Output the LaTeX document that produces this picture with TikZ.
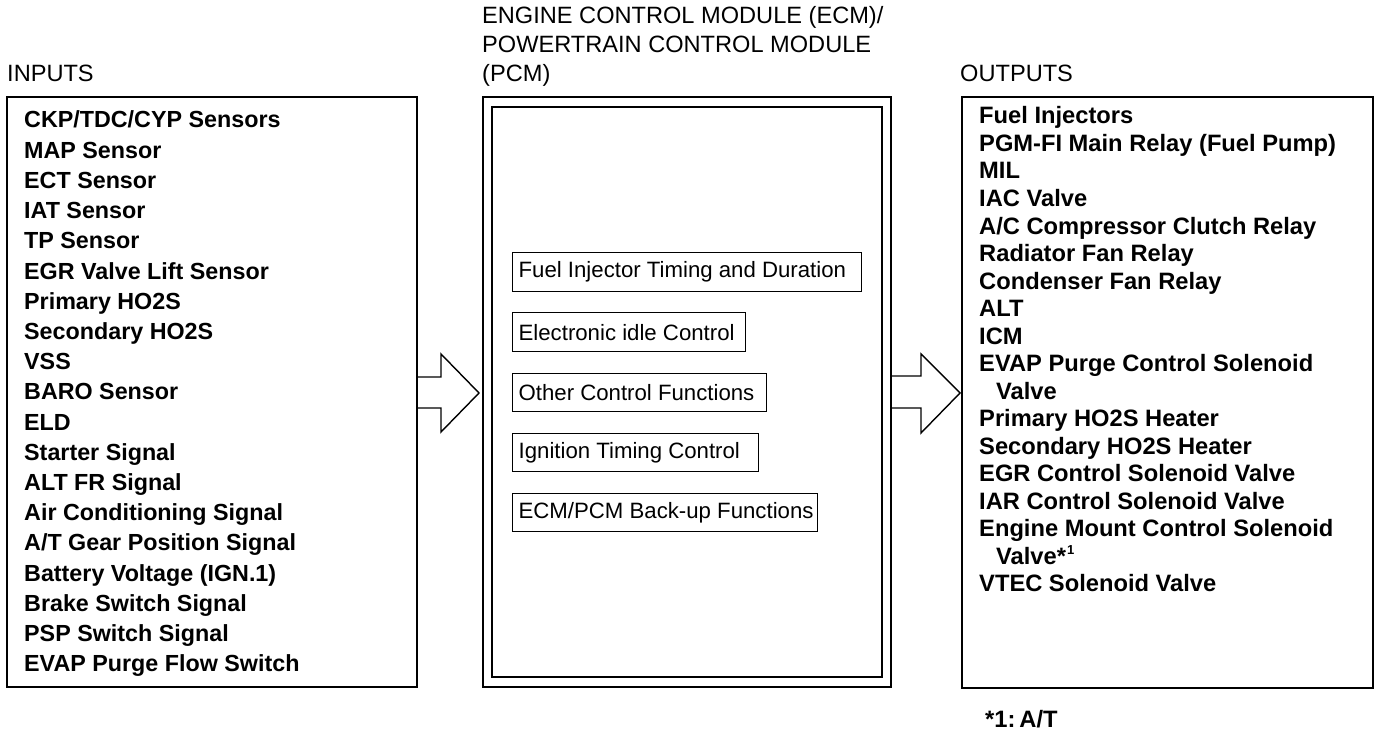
\documentclass[tikz,border=0pt]{standalone}
\usepackage{fontspec}
\setmainfont{Liberation Sans}
\begin{document}
\begin{tikzpicture}[x=1pt,y=-1pt,
  box/.style={line width=1.4pt},
  title/.style={anchor=base west,inner sep=0pt,font=\fontsize{23.6}{23.6}\selectfont},
  item/.style={anchor=base west,inner sep=0pt,font=\fontsize{23.3}{23.3}\selectfont\bfseries},
  oitem/.style={anchor=base west,inner sep=0pt,font=\fontsize{23.7}{23.7}\selectfont\bfseries},
  func/.style={draw,line width=1.3pt,anchor=north west,inner xsep=6pt,inner ysep=0pt,
    font=\fontsize{22.2}{22.2}\selectfont},
  blockarrow/.style={line width=1.4pt,line join=miter}]
\useasboundingbox (0,0) rectangle (1392,730);
% titles
\node[title] (tin) at (7,82) {INPUTS};
\node[title] (tecm1) at (482,24) {ENGINE CONTROL MODULE (ECM)/};
\node[title] (tecm2) at (482,53) {POWERTRAIN CONTROL MODULE};
\node[title] (tecm3) at (482,82) {(PCM)};
\node[title] (tout) at (960,82) {OUTPUTS};
% boxes
\draw[box] (7,97) rectangle (417,687);
\draw[box] (483,97) rectangle (891,687);
\draw[line width=1.8pt] (492,107) rectangle (882,677);
\draw[box] (962,97) rectangle (1373,688);
% inputs
\foreach \t [count=\i] in {CKP/TDC/CYP Sensors,MAP Sensor,ECT Sensor,IAT Sensor,TP Sensor,
  EGR Valve Lift Sensor,Primary HO2S,Secondary HO2S,VSS,BARO Sensor,ELD,Starter Signal,
  ALT FR Signal,Air Conditioning Signal,A/T Gear Position Signal,Battery Voltage (IGN.1),
  Brake Switch Signal,PSP Switch Signal,EVAP Purge Flow Switch}
  \node[item] (in\i) at (24,{128+30.2*(\i-1)}) {\t};
% outputs
\foreach \t [count=\i] in {Fuel Injectors,PGM-FI Main Relay (Fuel Pump),MIL,IAC Valve,
  A/C Compressor Clutch Relay,Radiator Fan Relay,Condenser Fan Relay,ALT,ICM,
  EVAP Purge Control Solenoid}
  \node[oitem] (out\i) at (979,{124+27.5*(\i-1)}) {\t};
\node[oitem] (out11) at (996,{124+27.5*10}) {Valve};
\foreach \t [count=\j from 12] in {Primary HO2S Heater,Secondary HO2S Heater,
  EGR Control Solenoid Valve,IAR Control Solenoid Valve,Engine Mount Control Solenoid}
  \node[oitem] (out\j) at (979,{124+27.5*(\j-1)}) {\t};
\node[oitem] (out17) at (996,{124+27.5*16}) {Valve*\kern1pt\textsuperscript{\fontsize{13}{13}\selectfont 1}};
\node[oitem] (out18) at (979,{124+27.5*17}) {VTEC Solenoid Valve};
\node[oitem] (note) at (985,727) {*1:\kern4pt A/T};
% function boxes
\node[func,minimum height=39pt] (f1) at (512,252) {\makebox[337pt][l]{Fuel Injector Timing and Duration}};
\node[func,minimum height=39pt] (f2) at (512,312) {\makebox[221pt][l]{Electronic idle Control}};
\node[func,minimum height=38pt] (f3) at (512,373) {\makebox[242pt][l]{Other Control Functions}};
\node[func,minimum height=38pt] (f4) at (512,433) {\makebox[234pt][l]{Ignition Timing Control}};
\node[func,minimum height=38pt] (f5) at (512,493) {\makebox[293pt][l]{ECM/PCM Back-up Functions}};
% block arrows
\draw[blockarrow] (417,377) -- (441,377) -- (441,354) -- (479,393) -- (441,432) -- (441,408) -- (417,408);
\draw[blockarrow] (891,376) -- (921,376) -- (921,354) -- (960,393) -- (921,433) -- (921,408) -- (891,408);
\end{tikzpicture}
\end{document}
